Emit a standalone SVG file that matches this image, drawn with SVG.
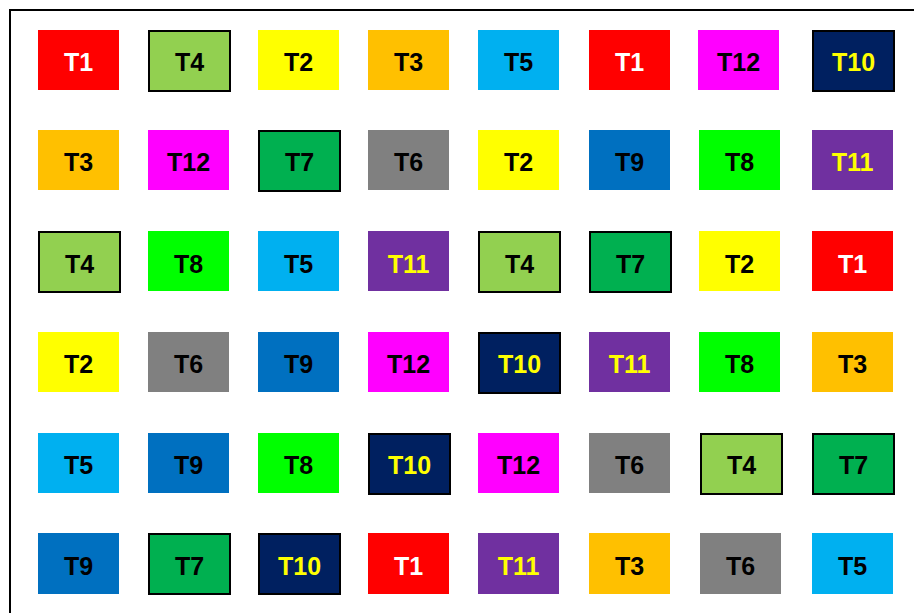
<svg xmlns="http://www.w3.org/2000/svg" width="914" height="613" viewBox="0 0 914 613">
<style>
text{font-family:"Liberation Sans",Arial,sans-serif;font-weight:bold;font-size:25px;text-anchor:middle}
.b{stroke:#000;stroke-width:2}
.tk{fill:#000}.tw{fill:#fff}.ty{fill:#FFFF00}
.c1{fill:#FF0000}.c2{fill:#FFFF00}.c3{fill:#FFC000}.c4{fill:#92D050}.c5{fill:#00B0F0}.c6{fill:#808080}
.c7{fill:#00B050}.c8{fill:#00FF00}.c9{fill:#0070C0}.c10{fill:#002060}.c11{fill:#7030A0}.c12{fill:#FF00FF}
</style>
<rect width="914" height="613" fill="#fff"/>
<g id="frame"><path d="M10 613V10H914" fill="none" stroke="#000" stroke-width="2"/></g>
<g id="connectors"></g>
<g id="r1c1"><rect x="38" y="30" width="81" height="60" class="c1"/><text x="78.5" y="71" class="tw">T1</text></g>
<g id="r1c2"><rect x="149" y="31" width="81" height="60" class="c4 b"/><text x="189.5" y="71" class="tk">T4</text></g>
<g id="r1c3"><rect x="258" y="30" width="81" height="60" class="c2"/><text x="298.5" y="71" class="tk">T2</text></g>
<g id="r1c4"><rect x="368" y="30" width="81" height="60" class="c3"/><text x="408.5" y="71" class="tk">T3</text></g>
<g id="r1c5"><rect x="478" y="30" width="81" height="60" class="c5"/><text x="518.5" y="71" class="tk">T5</text></g>
<g id="r1c6"><rect x="589" y="30" width="81" height="60" class="c1"/><text x="629.5" y="71" class="tw">T1</text></g>
<g id="r1c7"><rect x="698" y="30" width="81" height="60" class="c12"/><text x="738.5" y="71" class="tk">T12</text></g>
<g id="r1c8"><rect x="813" y="31" width="81" height="60" class="c10 b"/><text x="853.5" y="71" class="ty">T10</text></g>

<g id="r2c1"><rect x="38" y="130" width="81" height="60" class="c3"/><text x="78.5" y="171" class="tk">T3</text></g>
<g id="r2c2"><rect x="148" y="130" width="81" height="60" class="c12"/><text x="188.5" y="171" class="tk">T12</text></g>
<g id="r2c3"><rect x="259" y="131" width="81" height="60" class="c7 b"/><text x="299.5" y="171" class="tk">T7</text></g>
<g id="r2c4"><rect x="368" y="130" width="81" height="60" class="c6"/><text x="408.5" y="171" class="tk">T6</text></g>
<g id="r2c5"><rect x="478" y="130" width="81" height="60" class="c2"/><text x="518.5" y="171" class="tk">T2</text></g>
<g id="r2c6"><rect x="589" y="130" width="81" height="60" class="c9"/><text x="629.5" y="171" class="tk">T9</text></g>
<g id="r2c7"><rect x="699" y="130" width="81" height="60" class="c8"/><text x="739.5" y="171" class="tk">T8</text></g>
<g id="r2c8"><rect x="812" y="130" width="81" height="60" class="c11"/><text x="852.5" y="171" class="ty">T11</text></g>

<g id="r3c1"><rect x="39" y="232" width="81" height="60" class="c4 b"/><text x="79.5" y="273" class="tk">T4</text></g>
<g id="r3c2"><rect x="148" y="231" width="81" height="60" class="c8"/><text x="188.5" y="273" class="tk">T8</text></g>
<g id="r3c3"><rect x="258" y="231" width="81" height="60" class="c5"/><text x="298.5" y="273" class="tk">T5</text></g>
<g id="r3c4"><rect x="368" y="231" width="81" height="60" class="c11"/><text x="408.5" y="273" class="ty">T11</text></g>
<g id="r3c5"><rect x="479" y="232" width="81" height="60" class="c4 b"/><text x="519.5" y="273" class="tk">T4</text></g>
<g id="r3c6"><rect x="590" y="232" width="81" height="60" class="c7 b"/><text x="630.5" y="273" class="tk">T7</text></g>
<g id="r3c7"><rect x="699" y="231" width="81" height="60" class="c2"/><text x="739.5" y="273" class="tk">T2</text></g>
<g id="r3c8"><rect x="812" y="231" width="81" height="60" class="c1"/><text x="852.5" y="273" class="tw">T1</text></g>

<g id="r4c1"><rect x="38" y="332" width="81" height="60" class="c2"/><text x="78.5" y="373" class="tk">T2</text></g>
<g id="r4c2"><rect x="148" y="332" width="81" height="60" class="c6"/><text x="188.5" y="373" class="tk">T6</text></g>
<g id="r4c3"><rect x="258" y="332" width="81" height="60" class="c9"/><text x="298.5" y="373" class="tk">T9</text></g>
<g id="r4c4"><rect x="368" y="332" width="81" height="60" class="c12"/><text x="408.5" y="373" class="tk">T12</text></g>
<g id="r4c5"><rect x="479" y="333" width="81" height="60" class="c10 b"/><text x="519.5" y="373" class="ty">T10</text></g>
<g id="r4c6"><rect x="589" y="332" width="81" height="60" class="c11"/><text x="629.5" y="373" class="ty">T11</text></g>
<g id="r4c7"><rect x="699" y="332" width="81" height="60" class="c8"/><text x="739.5" y="373" class="tk">T8</text></g>
<g id="r4c8"><rect x="812" y="332" width="81" height="60" class="c3"/><text x="852.5" y="373" class="tk">T3</text></g>

<g id="r5c1"><rect x="38" y="433" width="81" height="60" class="c5"/><text x="78.5" y="474" class="tk">T5</text></g>
<g id="r5c2"><rect x="148" y="433" width="81" height="60" class="c9"/><text x="188.5" y="474" class="tk">T9</text></g>
<g id="r5c3"><rect x="258" y="433" width="81" height="60" class="c8"/><text x="298.5" y="474" class="tk">T8</text></g>
<g id="r5c4"><rect x="369" y="434" width="81" height="60" class="c10 b"/><text x="409.5" y="474" class="ty">T10</text></g>
<g id="r5c5"><rect x="478" y="433" width="81" height="60" class="c12"/><text x="518.5" y="474" class="tk">T12</text></g>
<g id="r5c6"><rect x="589" y="433" width="81" height="60" class="c6"/><text x="629.5" y="474" class="tk">T6</text></g>
<g id="r5c7"><rect x="701" y="434" width="81" height="60" class="c4 b"/><text x="741.5" y="474" class="tk">T4</text></g>
<g id="r5c8"><rect x="813" y="434" width="81" height="60" class="c7 b"/><text x="853.5" y="474" class="tk">T7</text></g>

<g id="r6c1"><rect x="38" y="533" width="81" height="61" class="c9"/><text x="78.5" y="575" class="tk">T9</text></g>
<g id="r6c2"><rect x="149" y="534" width="81" height="60" class="c7 b"/><text x="189.5" y="575" class="tk">T7</text></g>
<g id="r6c3"><rect x="259" y="534" width="81" height="60" class="c10 b"/><text x="299.5" y="575" class="ty">T10</text></g>
<g id="r6c4"><rect x="368" y="533" width="81" height="61" class="c1"/><text x="408.5" y="575" class="tw">T1</text></g>
<g id="r6c5"><rect x="478" y="533" width="81" height="61" class="c11"/><text x="518.5" y="575" class="ty">T11</text></g>
<g id="r6c6"><rect x="589" y="533" width="81" height="61" class="c3"/><text x="629.5" y="575" class="tk">T3</text></g>
<g id="r6c7"><rect x="700" y="533" width="81" height="61" class="c6"/><text x="740.5" y="575" class="tk">T6</text></g>
<g id="r6c8"><rect x="812" y="533" width="81" height="61" class="c5"/><text x="852.5" y="575" class="tk">T5</text></g>
</svg>
